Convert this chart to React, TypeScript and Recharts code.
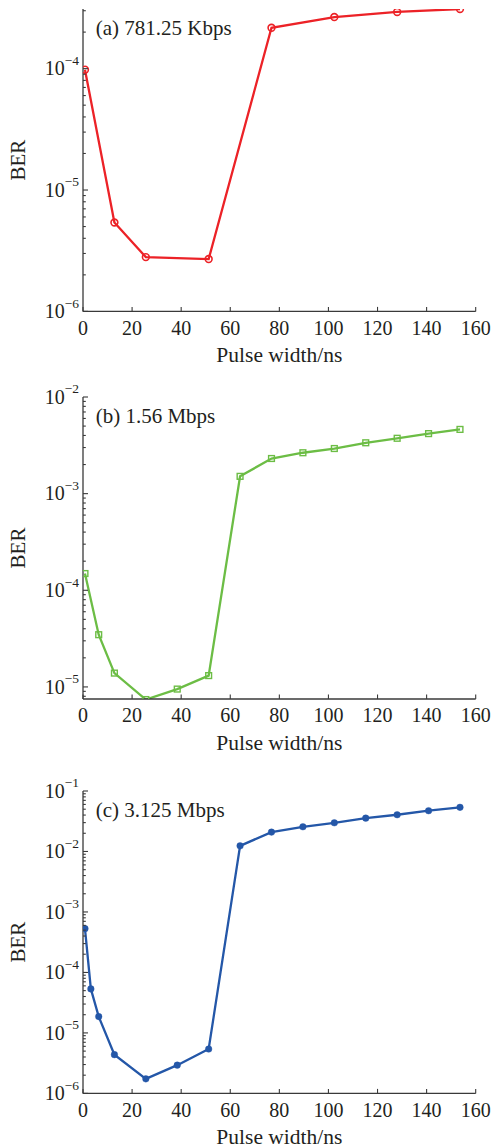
import React from 'react';
import { LineChart, Line, XAxis, YAxis } from 'recharts';

const FONT = "'Liberation Serif', 'Times New Roman', Times, 'DejaVu Serif', serif";
const TEXT = '#231f20';
const FRAME = '#3a3a3a';

// Pulse width (ns) ticks
const xTicks = [0, 20, 40, 60, 80, 100, 120, 140, 160];

// (a) 781.25 Kbps
const pulseA = [0.8, 12.8, 25.6, 51.2, 76.8, 102.4, 128, 153.6];
const berA = [9.8e-5, 5.4e-6, 2.8e-6, 2.7e-6, 2.17e-4, 2.66e-4, 2.93e-4, 3.1e-4];

// (b) 1.56 Mbps
const pulseB = [0.8, 6.4, 12.8, 25.6, 38.4, 51.2, 64, 76.8, 89.6, 102.4, 115.2, 128, 140.8, 153.6];
const berB = [1.49e-4, 3.47e-5, 1.39e-5, 7.4e-6, 9.5e-6, 1.31e-5, 1.51e-3, 2.31e-3, 2.65e-3, 2.93e-3, 3.36e-3, 3.74e-3, 4.18e-3, 4.62e-3];

// (c) 3.125 Mbps
const pulseC = [0.8, 3.2, 6.4, 12.8, 25.6, 38.4, 51.2, 64, 76.8, 89.6, 102.4, 115.2, 128, 140.8, 153.6];
const berC = [5.3e-4, 5.34e-5, 1.86e-5, 4.37e-6, 1.74e-6, 2.93e-6, 5.41e-6, 1.24e-2, 2.09e-2, 2.56e-2, 2.98e-2, 3.56e-2, 4.05e-2, 4.72e-2, 5.37e-2];

const titles = ['(a) 781.25 Kbps', '(b) 1.56 Mbps', '(c) 3.125 Mbps'];
const yDomains: [number, number][] = [[1e-6, 3.1e-4], [7.5e-6, 1e-2], [1e-6, 1e-1]];

const toRows = (xs: number[], ys: number[]) => xs.map((x, i) => ({ x, ber: ys[i] }));

function logTicks(min: number, max: number) {
  const out: number[] = [];
  for (let e = Math.floor(Math.log10(min)); e <= Math.ceil(Math.log10(max)); e++) {
    for (let m = 1; m <= 9; m++) {
      const v = m * Math.pow(10, e);
      if (v >= min * 0.9999 && v <= max * 1.0001) out.push(v);
    }
  }
  return out;
}

const txtStyle = (size: number) => ({ fontFamily: FONT, fontSize: size });

const YTick = (props: any) => {
  const { x, y, payload } = props;
  const v = payload.value;
  const lg = Math.log10(v);
  const exp = Math.round(lg);
  const major = Math.abs(lg - exp) < 1e-6;
  return (
    <g>
      <line x1={x} x2={x + (major ? 5 : 2.8)} y1={y} y2={y} stroke={FRAME} strokeWidth={1.1} />
      {major && (
        <text x={x - 4} y={y + 6.8} textAnchor="end" style={txtStyle(20)} fill={TEXT}>
          <tspan>10</tspan>
          <tspan dy={-10.5} style={{ fontSize: 13.5 }}>{'\u2212' + String(-exp)}</tspan>
        </text>
      )}
    </g>
  );
};

const XTick = (props: any) => {
  const { x, y, payload } = props;
  return (
    <g>
      <line x1={x} x2={x} y1={y} y2={y - 4.5} stroke={FRAME} strokeWidth={1.1} />
      <text x={x} y={y + 23.3} textAnchor="middle" style={txtStyle(20)} fill={TEXT}>
        {payload.value}
      </text>
    </g>
  );
};

const axisLine = { stroke: FRAME, strokeWidth: 1.3 };

type Shape = 'circle' | 'square' | 'dot';

function makeDot(shape: Shape, color: string) {
  return (p: any) => {
    const { cx, cy, index } = p;
    if (cx == null || cy == null) return <g key={index} />;
    if (shape === 'circle')
      return <circle key={index} cx={cx} cy={cy} r={3.4} fill="none" stroke={color} strokeWidth={1.6} />;
    if (shape === 'square')
      return <rect key={index} x={cx - 2.9} y={cy - 2.9} width={5.8} height={5.8} fill="none" stroke={color} strokeWidth={1.4} />;
    return <circle key={index} cx={cx} cy={cy} r={3.3} fill={color} stroke={color} strokeWidth={0.4} />;
  };
}

const PLOT_LEFT = 83;
const PLOT_RIGHT = 475.7;
const W = 494;

function Panel(props: {
  plotTop: number;
  plotBottom: number;
  title: string;
  rows: { x: number; ber: number }[];
  domain: [number, number];
  color: string;
  shape: Shape;
}) {
  const { plotTop, plotBottom, title, rows, domain, color, shape } = props;
  const mt = 20;
  const plotH = plotBottom - plotTop;
  const H = mt + plotH + 60;
  const ticks = logTicks(domain[0], domain[1]);
  const cx = (PLOT_LEFT + PLOT_RIGHT) / 2;
  return (
    <div style={{ position: 'absolute', left: 0, top: plotTop - mt, width: W, height: H }}>
      <LineChart width={W} height={H} data={rows} margin={{ top: mt, right: W - PLOT_RIGHT, left: 0, bottom: 0 }}>
        <XAxis
          dataKey="x"
          type="number"
          domain={[0, 160]}
          ticks={xTicks}
          interval={0}
          tick={<XTick />}
          tickLine={false}
          tickSize={0}
          tickMargin={0}
          height={60}
          axisLine={axisLine}
          allowDataOverflow
        />
        <XAxis
          xAxisId="top"
          orientation="top"
          dataKey="x"
          type="number"
          domain={[0, 160]}
          height={0}
          tick={false}
          tickLine={false}
          axisLine={axisLine}
        />
        <YAxis
          type="number"
          scale="log"
          domain={domain}
          ticks={ticks}
          interval={0}
          allowDataOverflow
          tick={<YTick />}
          tickLine={false}
          tickSize={0}
          tickMargin={0}
          width={PLOT_LEFT}
          axisLine={axisLine}
        />
        <YAxis yAxisId="r" orientation="right" width={0} tick={false} tickLine={false} axisLine={axisLine} />
        <Line
          dataKey="ber"
          stroke={color}
          strokeWidth={2.3}
          isAnimationActive={false}
          dot={makeDot(shape, color)}
          activeDot={false}
        />
      </LineChart>
      <svg
        width={W}
        height={H}
        style={{ position: 'absolute', left: 0, top: 0, pointerEvents: 'none', overflow: 'visible' }}
      >
        <text x={PLOT_LEFT + 12.7} y={mt + 25.5} style={txtStyle(21)} fill={TEXT}>
          {title}
        </text>
        <text
          x={25}
          y={mt + plotH / 2}
          transform={`rotate(-90 25 ${mt + plotH / 2})`}
          textAnchor="middle"
          style={txtStyle(21)}
          fill={TEXT}
        >
          BER
        </text>
        <text x={cx} y={mt + plotH + 51} textAnchor="middle" style={txtStyle(21.5)} fill={TEXT}>
          Pulse width/ns
        </text>
      </svg>
    </div>
  );
}

export default function App() {
  return (
    <div
      style={{
        position: 'absolute',
        left: 0,
        top: 0,
        width: W,
        height: 1144,
        overflow: 'hidden',
        background: '#fff',
        fontFamily: FONT,
      }}
    >
      <Panel plotTop={9.3} plotBottom={311.7} title={titles[0]} rows={toRows(pulseA, berA)} domain={yDomains[0]} color="#ec2227" shape="circle" />
      <Panel plotTop={397.3} plotBottom={699.3} title={titles[1]} rows={toRows(pulseB, berB)} domain={yDomains[1]} color="#6cbd45" shape="square" />
      <Panel plotTop={791.3} plotBottom={1093.7} title={titles[2]} rows={toRows(pulseC, berC)} domain={yDomains[2]} color="#2457a8" shape="dot" />
    </div>
  );
}
